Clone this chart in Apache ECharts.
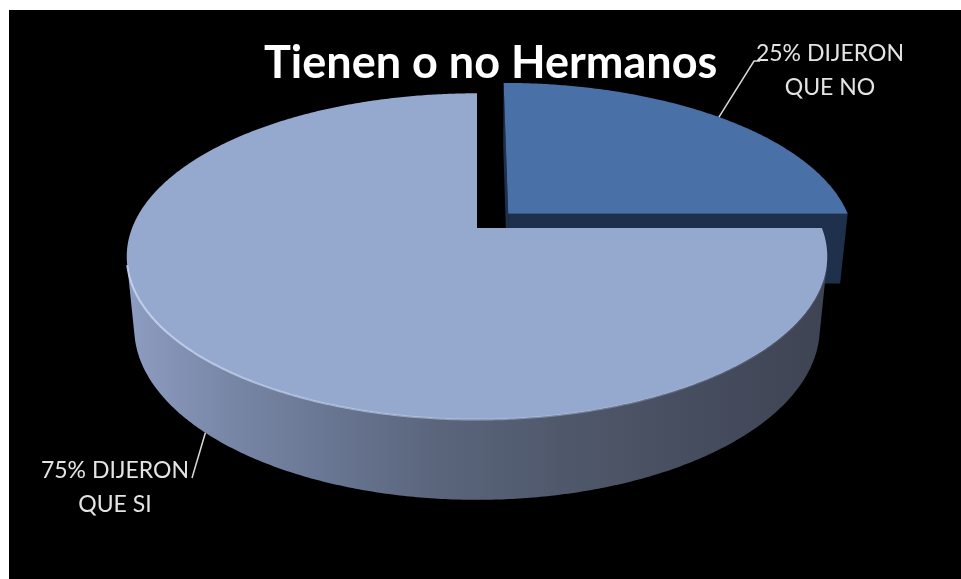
<!DOCTYPE html>
<html>
<head>
<meta charset="utf-8">
<script src="https://cdn.jsdelivr.net/npm/echarts@6/dist/echarts.min.js"></script>
<style>
  html, body { margin: 0; padding: 0; background: #ffffff; }
  #chart { width: 961px; height: 579px; }
</style>
</head>
<body>
<div id="chart"></div>
<script>
// Survey answers: do they have siblings?
const categories = ['QUE NO', 'QUE SI'];
const values = [25, 75];
const exploded = [true, false];
const titleText = 'Tienen o no Hermanos';

// Perspective view of the pie disc (unit radius, top face at y = 0)
const VIEW = { cx: 477, cy: 228, focal: 1759, dist: 5.1, tilt: 27.3, height: 0.235, explode: 0.13 };
const sinT = Math.sin(VIEW.tilt * Math.PI / 180);
const cosT = Math.cos(VIEW.tilt * Math.PI / 180);
const CAM = [0, VIEW.dist * sinT, VIEW.dist * cosT];

// Colours per slice
const topColors = ['#4a70a8', '#95a8ce'];
const cutColors = ['#1e304b', '#5a6680'];
const sideFills = [
  '#1e304b',
  {
    type: 'linear', x: 127, y: 0, x2: 822, y2: 0, global: true,
    colorStops: [
      { offset: 0.00, color: '#8d9dc1' },
      { offset: 0.15, color: '#7886a6' },
      { offset: 0.30, color: '#687591' },
      { offset: 0.45, color: '#5a657c' },
      { offset: 0.62, color: '#50596c' },
      { offset: 0.78, color: '#484f60' },
      { offset: 1.00, color: '#3e4454' }
    ]
  }
];

// Where each label sits and where its leader line ends
const labelLayout = [
  { x: 830, y: 71, leader: [[754, 61], [760, 61]] },
  { x: 115, y: 488, leader: [[192, 478]] }
];

function project(p) {
  const depth = VIEW.dist - (p[1] * sinT + p[2] * cosT);
  const up = p[1] * cosT - p[2] * sinT;
  return [VIEW.cx + VIEW.focal * p[0] / depth, VIEW.cy - VIEW.focal * up / depth];
}
function rimPoint(a, r, y, off) {
  return [off[0] + r * Math.sin(a), y, off[1] - r * Math.cos(a)];
}
function facesCamera(n, p) {
  return n[0] * (CAM[0] - p[0]) + n[1] * (CAM[1] - p[1]) + n[2] * (CAM[2] - p[2]) > 1e-6;
}

const total = values.reduce((s, v) => s + v, 0);

function renderItem(params, api) {
  const i = params.dataIndex;
  const v = api.value(0);
  let before = 0;
  for (let k = 0; k < i; k++) before += values[k];
  const a0 = before / total * Math.PI * 2;
  const a1 = (before + v) / total * Math.PI * 2;
  const mid = (a0 + a1) / 2;
  const off = exploded[i] ? [VIEW.explode * Math.sin(mid), -VIEW.explode * Math.cos(mid)] : [0, 0];
  const H = VIEW.height;
  const children = [];

  // Flat cut faces along the two radii
  [[a0, -1], [a1, 1]].forEach(([a, s]) => {
    const n = [s * Math.cos(a), 0, s * Math.sin(a)];
    if (!facesCamera(n, rimPoint(a, 0.5, -H / 2, off))) return;
    const pts = [
      [off[0], 0, off[1]], rimPoint(a, 1, 0, off), rimPoint(a, 1, -H, off), [off[0], -H, off[1]]
    ].map(project);
    children.push({ type: 'polygon', shape: { points: pts }, style: { fill: cutColors[i] } });
  });

  // Curved outer wall: keep only the runs that face the viewer
  const steps = Math.max(8, Math.ceil((a1 - a0) / (Math.PI / 360)));
  const runs = [];
  let cur = null;
  for (let k = 0; k <= steps; k++) {
    const a = a0 + (a1 - a0) * k / steps;
    const vis = facesCamera([Math.sin(a), 0, -Math.cos(a)], rimPoint(a, 1, -H / 2, off));
    if (vis) { if (!cur) { cur = []; runs.push(cur); } cur.push(a); }
    else cur = null;
  }
  runs.forEach(run => {
    if (run.length < 2) return;
    const topPts = run.map(a => project(rimPoint(a, 1, 0, off)));
    const botPts = run.slice().reverse().map(a => project(rimPoint(a, 1, -H, off)));
    children.push({ type: 'polygon', shape: { points: topPts.concat(botPts) }, style: { fill: sideFills[i] } });
  });

  // Top face
  const topFace = [project([off[0], 0, off[1]])];
  for (let k = 0; k <= steps; k++) {
    topFace.push(project(rimPoint(a0 + (a1 - a0) * k / steps, 1, 0, off)));
  }
  children.push({ type: 'polygon', shape: { points: topFace }, style: { fill: topColors[i] } });

  // Soft highlight along the front rim
  runs.forEach(run => {
    if (run.length < 2) return;
    const pts = run.map(a => project(rimPoint(a, 1, 0, off)));
    children.push({
      type: 'polyline', shape: { points: pts },
      style: {
        fill: null, lineWidth: 2,
        stroke: {
          type: 'linear', x: 127, y: 0, x2: 822, y2: 0, global: true,
          colorStops: [
            { offset: 0, color: 'rgba(205,220,245,0.85)' },
            { offset: 0.5, color: 'rgba(190,208,240,0.5)' },
            { offset: 1, color: 'rgba(170,190,230,0.1)' }
          ]
        }
      }
    });
  });

  // Data label with leader line
  const frontHalf = -Math.cos(mid) > 0;
  const anchor = project(rimPoint(mid, 1, frontHalf ? -H : 0, off));
  const lay = labelLayout[i];
  children.push({
    type: 'polyline', shape: { points: [anchor].concat(lay.leader) },
    style: { fill: null, stroke: '#d9d9d9', lineWidth: 1.5 }
  });
  children.push({
    type: 'text',
    style: {
      text: v + '% DIJERON\n' + categories[i],
      x: lay.x, y: lay.y,
      align: 'center', verticalAlign: 'middle',
      fill: '#e4e4e4', fontFamily: 'Lato', fontSize: 23, lineHeight: 34
    }
  });

  return { type: 'group', children: children };
}

const chart = echarts.init(document.getElementById('chart'), null, { renderer: 'canvas' });
chart.setOption({
  backgroundColor: '#ffffff',
  animation: false,
  graphic: [{
    type: 'rect', z: -1, silent: true,
    shape: { x: 9, y: 10, width: 952, height: 569 },
    style: { fill: '#000000' }
  }],
  title: {
    text: titleText,
    left: 264, top: 41, padding: 0,
    textStyle: { color: '#ffffff', fontFamily: 'Lato', fontWeight: 'bold', fontSize: 45 }
  },
  series: [{
    type: 'custom',
    coordinateSystem: 'none',
    silent: true,
    renderItem: renderItem,
    data: values.map((v, i) => ({ name: categories[i], value: v }))
  }]
});
</script>
</body>
</html>
